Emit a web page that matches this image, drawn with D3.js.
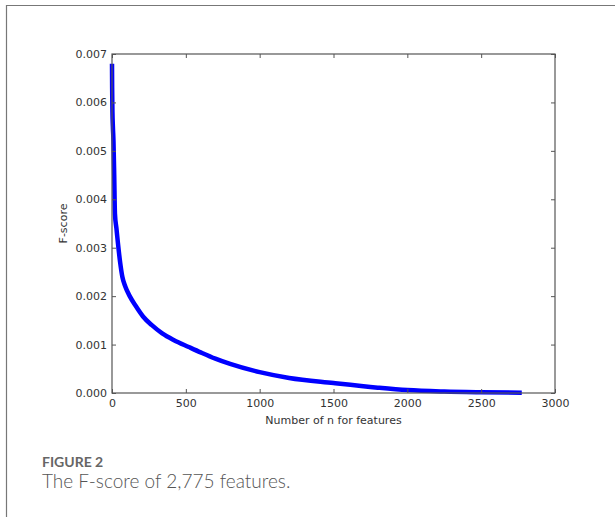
<!DOCTYPE html>
<html>
<head>
<meta charset="utf-8">
<script src="https://cdn.jsdelivr.net/npm/d3@7"></script>
<style>
  body { margin: 0; background: #fff; }
  svg { display: block; }
</style>
</head>
<body>
<svg id="chart" width="615" height="517"></svg>
<script>
// feature rank (n) and its F-score
let featureN = [0, 1, 3, 6, 10, 15, 20, 30, 40, 55, 70, 90, 120, 160, 210, 270, 340, 420, 520, 600, 700, 800, 1000, 1200, 1500, 1800, 2000, 2250, 2500, 2775]
let fScore = [0.0068, 0.0063, 0.0058, 0.0055, 0.0052, 0.0045, 0.0037, 0.0034, 0.0031, 0.0027, 0.0024, 0.0022, 0.0020, 0.0018, 0.00158, 0.0014, 0.00123, 0.00109, 0.00095, 0.00084, 0.00071, 0.0006, 0.00043, 0.00031, 0.000205, 0.00011, 0.00006, 0.00003, 0.000015, 0.000005]

let xTicks = [0, 500, 1000, 1500, 2000, 2500, 3000]
let yTicks = [0, 0.001, 0.002, 0.003, 0.004, 0.005, 0.006, 0.007]

let svg = d3.select("#chart")

// outer frame of the figure panel
svg.append("path")
  .attr("d", "M6.5,517 V5.5 H615")
  .attr("fill", "none")
  .attr("stroke", "#777")
  .attr("stroke-width", 1.2)

// plot area
let pLeft = 112, pRight = 555, pTop = 54, pBottom = 393

let x = d3.scaleLinear().domain([0, 3000]).range([pLeft, pRight])
let y = d3.scaleLinear().domain([0, 0.007]).range([pBottom, pTop])

let axisColor = "#555"
let textColor = "#333"
let font = "DejaVu Sans, sans-serif"

// the curve first, so the frame sits on top of it
let pts = featureN.map((n, i) => [n, fScore[i]])
let line = d3.line()
  .x(d => x(d[0]))
  .y(d => y(d[1]))
  .curve(d3.curveMonotoneX)

svg.append("path")
  .datum(pts)
  .attr("d", line)
  .attr("fill", "none")
  .attr("stroke", "#0000ff")
  .attr("stroke-width", 4.5)
  .attr("stroke-linejoin", "round")

// inward ticks on all four sides, matplotlib classic style
let bottomAxis = d3.axisBottom(x).tickValues(xTicks).tickSizeInner(-4).tickSizeOuter(0).tickPadding(6).tickFormat(d3.format("d"))
let topAxis = d3.axisTop(x).tickValues(xTicks).tickSizeInner(-4).tickSizeOuter(0).tickFormat("")
let leftAxis = d3.axisLeft(y).tickValues(yTicks).tickSizeInner(-4).tickSizeOuter(0).tickPadding(5).tickFormat(d3.format(".3f"))
let rightAxis = d3.axisRight(y).tickValues(yTicks).tickSizeInner(-4).tickSizeOuter(0).tickFormat("")

function styleAxis(g) {
  g.select(".domain").remove()
  g.selectAll(".tick line").attr("stroke", axisColor)
  g.selectAll(".tick text").attr("fill", textColor).style("font-family", font).style("font-size", "11px")
}

svg.append("g").attr("transform", `translate(0,${pBottom})`).call(bottomAxis).call(styleAxis)
svg.append("g").attr("transform", `translate(0,${pTop})`).call(topAxis).call(styleAxis)
svg.append("g").attr("transform", `translate(${pLeft},0)`).call(leftAxis).call(styleAxis)
svg.append("g").attr("transform", `translate(${pRight},0)`).call(rightAxis).call(styleAxis)

svg.append("rect")
  .attr("x", pLeft).attr("y", pTop)
  .attr("width", pRight - pLeft).attr("height", pBottom - pTop)
  .attr("fill", "none")
  .attr("stroke", axisColor)
  .attr("stroke-width", 1.2)

// axis titles
svg.append("text")
  .attr("x", (pLeft + pRight) / 2)
  .attr("y", 424)
  .attr("text-anchor", "middle")
  .style("font-family", font)
  .style("font-size", "11px")
  .attr("fill", textColor)
  .text("Number of n for features")

svg.append("text")
  .attr("transform", `translate(67,${(pTop + pBottom) / 2}) rotate(-90)`)
  .attr("text-anchor", "middle")
  .style("font-family", font)
  .style("font-size", "11px")
  .attr("fill", textColor)
  .text("F-score")

// caption
svg.append("text")
  .attr("x", 42)
  .attr("y", 467)
  .style("font-family", "Lato, sans-serif")
  .style("font-size", "14px")
  .style("font-weight", "bold")
  .attr("fill", "#666")
  .text("FIGURE 2")

svg.append("text")
  .attr("x", 42)
  .attr("y", 488)
  .style("font-family", "Lato, sans-serif")
  .style("font-size", "19px")
  .style("font-weight", "300")
  .attr("fill", "#555")
  .text("The F-score of 2,775 features.")
</script>
</body>
</html>
